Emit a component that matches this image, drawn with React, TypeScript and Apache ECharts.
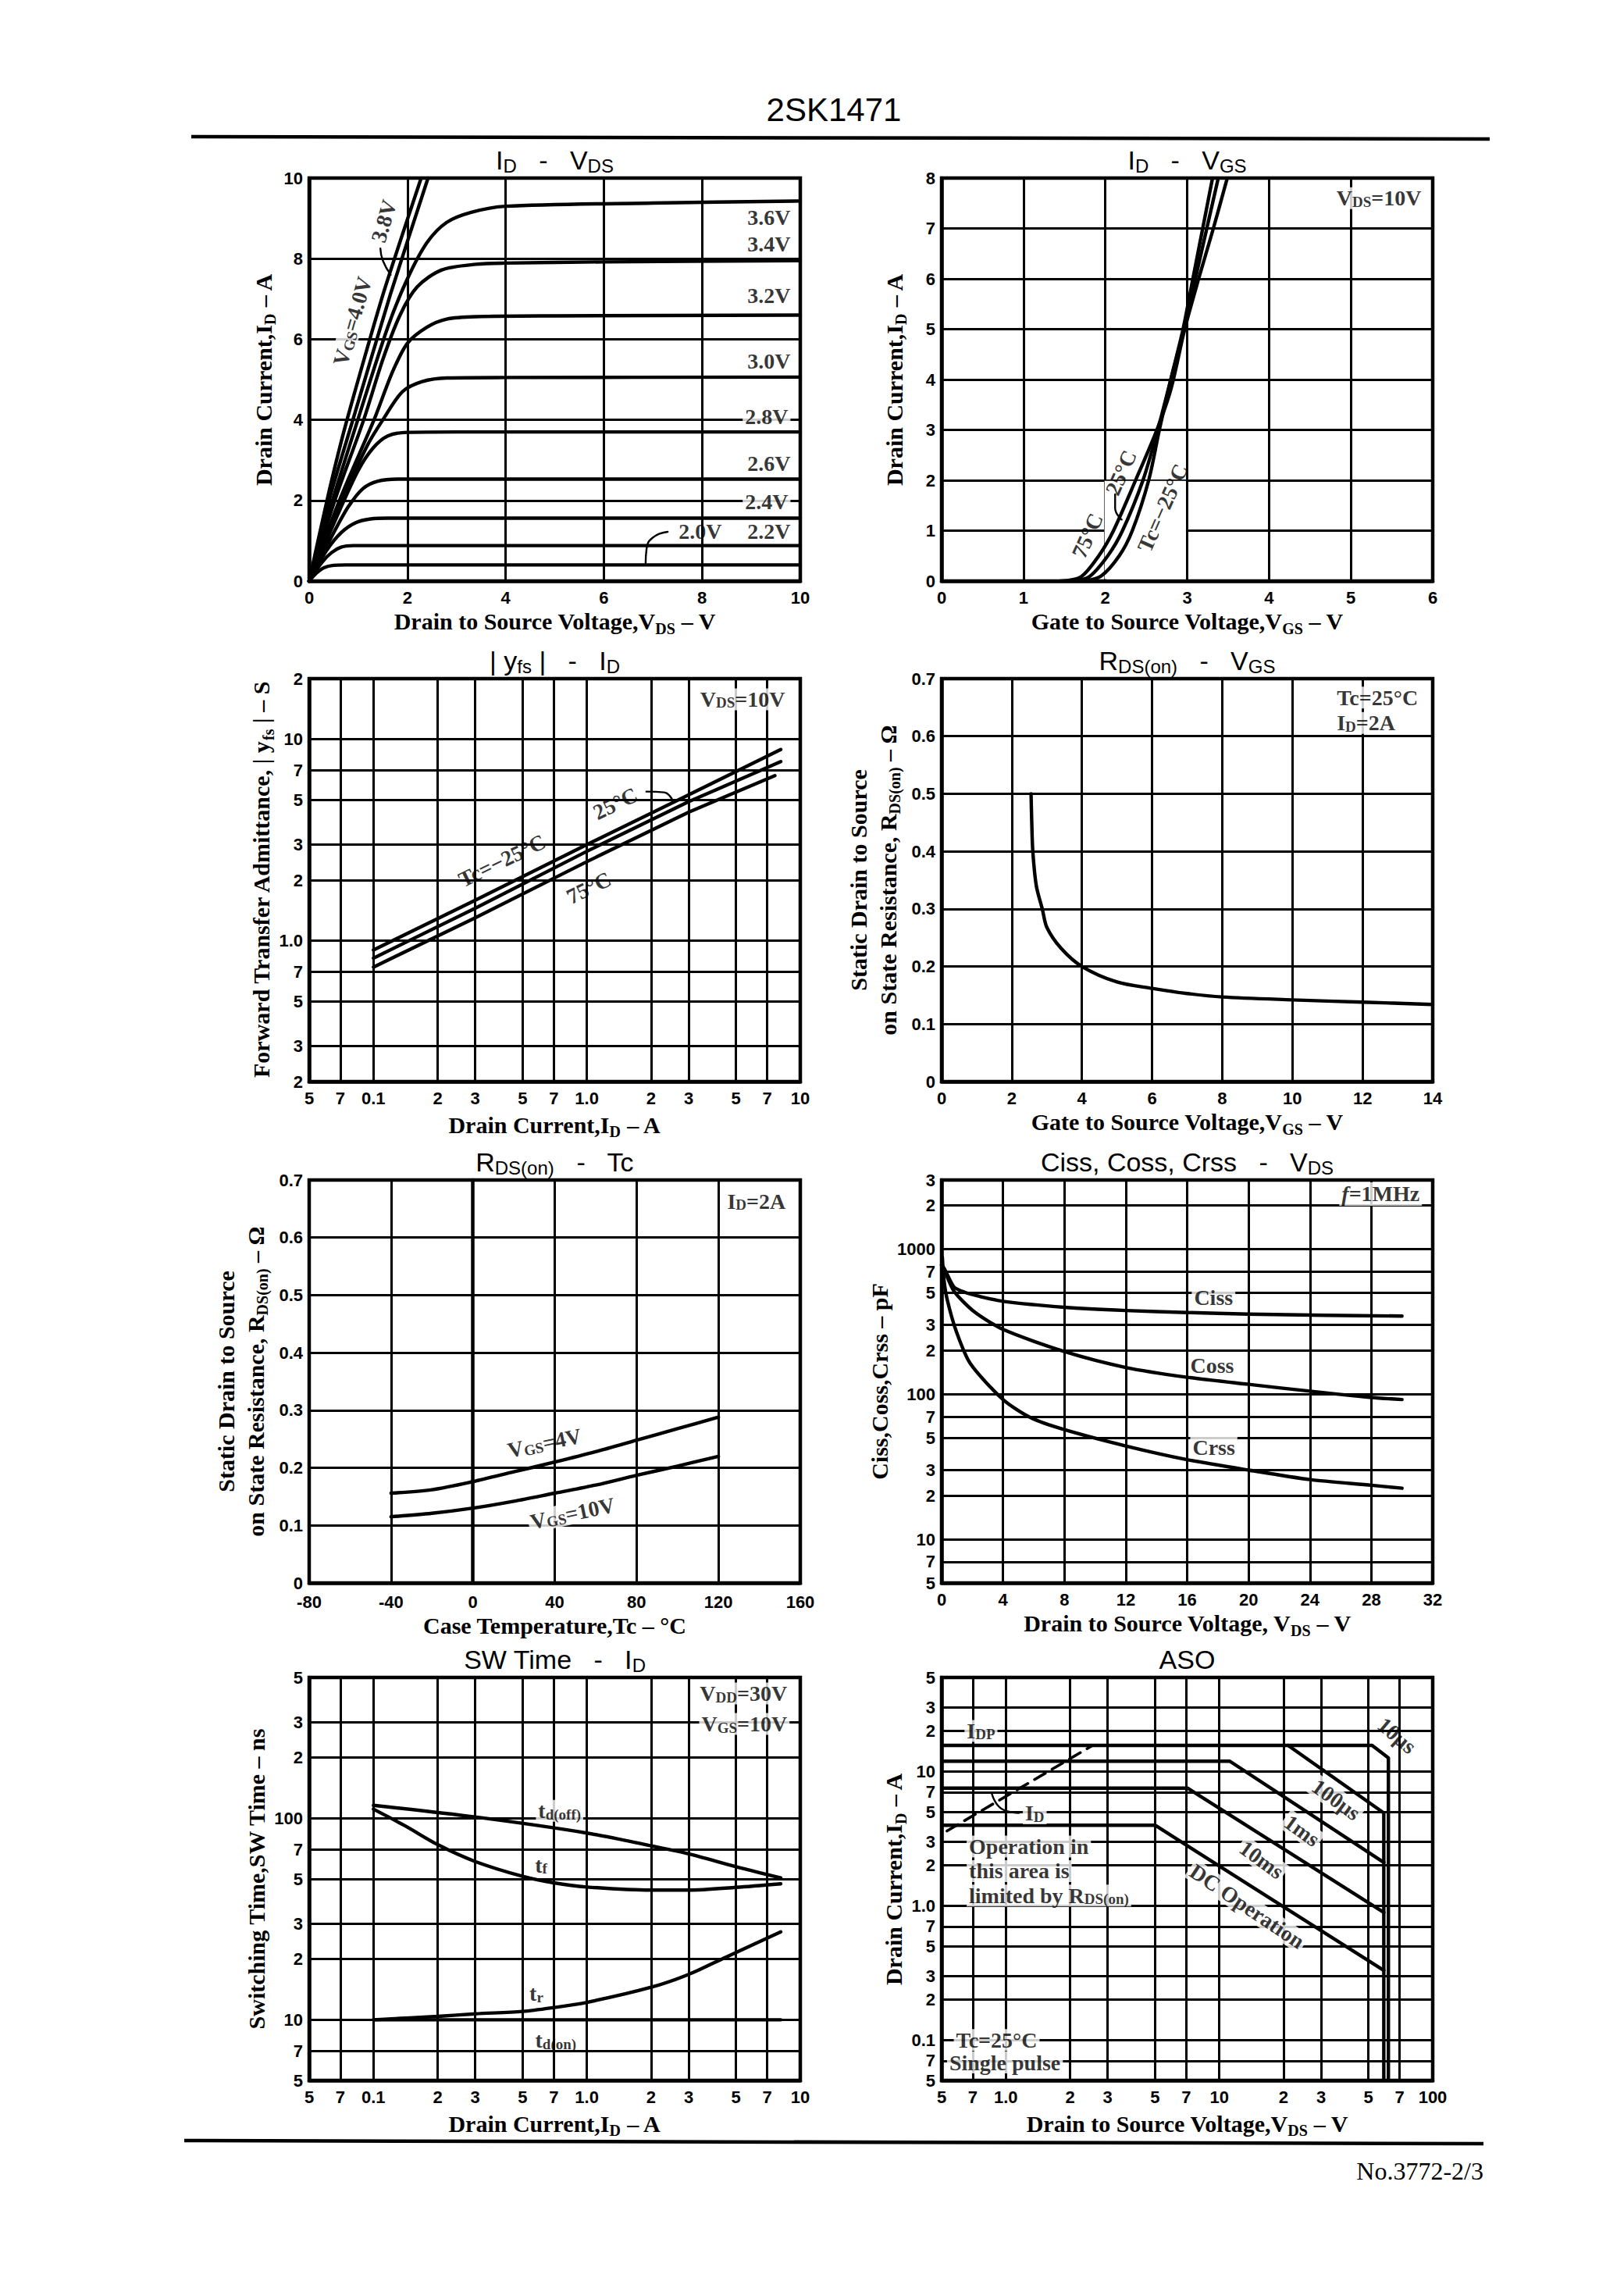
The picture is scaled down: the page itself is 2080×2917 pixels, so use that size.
import React, { useEffect, useRef } from "react";
import * as echarts from "echarts";

// ================= DATA =================
// Chart 1: ID – VDS   points are [VDS (V), ID (A)]
const vgs20 = [[0, 0], [0.15, 0.2], [0.3, 0.33], [0.5, 0.39], [0.75, 0.4], [2, 0.4], [10, 0.4]];
const vgs22 = [[0, 0], [0.25, 0.45], [0.45, 0.7], [0.65, 0.84], [0.9, 0.88], [2, 0.88], [10, 0.88]];
const vgs24 = [[0, 0], [0.35, 0.75], [0.65, 1.2], [0.95, 1.45], [1.25, 1.54], [1.6, 1.56], [3, 1.56], [10, 1.56]];
const vgs26 = [[0, 0], [0.5, 1.2], [0.8, 1.85], [1.1, 2.3], [1.4, 2.48], [1.8, 2.53], [3, 2.53], [10, 2.53]];
const vgs28 = [[0, 0], [0.6, 1.7], [1.0, 2.75], [1.3, 3.3], [1.6, 3.6], [2.0, 3.69], [3, 3.7], [10, 3.7]];
const vgs30 = [[0, 0], [0.7, 2.1], [1.2, 3.4], [1.5, 4.0], [1.9, 4.7], [2.3, 4.95], [2.8, 5.04], [4, 5.05], [10, 5.06]];
const vgs32 = [[0, 0], [0.65, 2.1], [1.32, 4], [1.7, 5.2], [2.0, 5.9], [2.4, 6.3], [2.8, 6.5], [3.4, 6.56], [5, 6.58], [10, 6.6]];
const vgs34 = [[0, 0], [0.55, 2.1], [1.11, 4], [1.5, 5.5], [1.85, 6.6], [2.2, 7.3], [2.7, 7.72], [3.4, 7.86], [4, 7.89], [6, 7.92], [10, 7.95]];
const vgs36 = [[0, 0], [0.5, 2.1], [0.99, 4], [1.6, 6.3], [2.0, 7.5], [2.4, 8.4], [2.8, 8.9], [3.3, 9.15], [4, 9.3], [7, 9.38], [10, 9.43]];
const vgs38 = [[0, 0], [0.45, 2.2], [0.89, 4], [1.65, 7.1], [2.42, 10]];
const vgs40 = [[0, 0], [0.4, 2.2], [0.77, 4], [1.5, 7.1], [2.28, 10]];
const lead20 = [[7.3, 1.22], [7.0, 1.08], [6.87, 0.8], [6.85, 0.42]];
const lead38 = [[1.45, 8.25], [1.5, 7.95], [1.66, 7.6]];

// Chart 2: ID – VGS   [VGS (V), ID (A)]
const vgsTc75 = [[1.45, 0], [1.7, 0.08], [1.92, 0.5], [2.1, 1.0], [2.37, 2.0], [2.63, 3.0], [2.8, 3.8], [2.97, 5], [3.14, 6], [3.32, 7], [3.49, 8]];
const vgsTc25 = [[1.6, 0], [1.8, 0.08], [2.03, 0.5], [2.21, 1.0], [2.46, 2], [2.64, 3], [2.8, 4], [2.96, 5], [3.1, 6], [3.24, 7], [3.38, 8]];
const vgsTcM25 = [[1.75, 0], [1.95, 0.1], [2.17, 0.5], [2.33, 1.0], [2.53, 2], [2.66, 3], [2.8, 4], [2.95, 5], [3.07, 6], [3.19, 7], [3.31, 8]];
const lead25 = [[2.12, 1.72], [2.12, 1.45], [2.2, 1.22]];

// Chart 3: |yfs| – ID   [ID (A), |yfs| (S)]
const yfsM25 = [[0.1, 0.9], [0.3, 1.59], [1, 3.0], [3, 5.3], [8.1, 8.9]];
const yfs25 = [[0.1, 0.82], [0.3, 1.45], [1, 2.78], [3, 4.9], [8.1, 7.75]];
const yfs75 = [[0.1, 0.74], [0.3, 1.3], [1, 2.47], [3, 4.35], [7.6, 6.6]];
const leadYfs = [[1.9, 5.5], [2.3, 5.45], [2.55, 4.85]];

// Chart 4: RDS(on) – VGS   [VGS (V), RDS (ohm)]
const rdsVgs = [[2.55, 0.5], [2.57, 0.45], [2.6, 0.4], [2.7, 0.34], [2.87, 0.3], [3.0, 0.268], [3.4, 0.232], [4, 0.2], [5, 0.173], [6, 0.162], [7, 0.153], [8, 0.147], [10, 0.142], [12, 0.138], [14, 0.134]];

// Chart 5: RDS(on) – Tc   [Tc (°C), RDS (ohm)]
const rdsTcVgs4 = [[-40, 0.156], [-20, 0.162], [0, 0.176], [20, 0.193], [40, 0.21], [60, 0.228], [80, 0.248], [100, 0.268], [120, 0.288]];
const rdsTcVgs10 = [[-40, 0.115], [-20, 0.121], [0, 0.13], [20, 0.142], [40, 0.156], [60, 0.17], [80, 0.187], [100, 0.203], [120, 0.22]];

// Chart 6: Ciss, Coss, Crss – VDS   [VDS (V), C (pF)]
const ciss = [[0, 780], [0.2, 728], [0.8, 550], [1.5, 505], [2.4, 475], [4, 437], [8, 398], [12, 378], [16, 366], [20, 357], [25, 350], [30, 346]];
const coss = [[0, 780], [0.1, 750], [0.8, 515], [2.1, 373], [4, 280], [8, 197], [12, 153], [16, 131], [20, 117], [24, 105], [28, 95], [30, 92]];
const crss = [[0.05, 880], [0.15, 620], [0.36, 452], [0.96, 271], [1.87, 163], [4, 92], [5.8, 69], [8, 57], [12, 44], [16, 35.4], [20, 30], [24, 25.8], [28, 23.6], [30, 22.5]];

// Chart 7: SW Time – ID   [ID (A), t (ns)]
const tdOff = [[0.1, 116], [0.3, 101.5], [1, 84.5], [2, 73], [3, 66.6], [5, 57.5], [8.1, 50.6]];
const tFall = [[0.1, 111], [0.14, 92], [0.2, 74], [0.3, 61], [0.5, 51.5], [0.7, 47.8], [1, 45.6], [2, 44], [3, 44], [5, 45.4], [8.1, 47.3]];
const tRise = [[0.1, 10], [0.2, 10.4], [0.3, 10.7], [0.5, 11.0], [0.7, 11.5], [1, 12.2], [2, 14.5], [3, 16.8], [4.5, 20.5], [8.1, 27.3]];
const tdOn = [[0.1, 10], [8.1, 10]];

// Chart 8: ASO   [VDS (V), ID (A)]
const aso10us = [[0.5, 15.6], [52, 15.6], [62, 12.6], [62, 0.05]];
const aso100us = [[21, 15.6], [59, 4.9], [59, 0.05]];
const aso1ms = [[0.5, 11.9], [11.2, 11.9], [59, 2.1]];
const aso10ms = [[0.5, 7.5], [7.1, 7.5], [59, 0.89]];
const asoDC = [[0.5, 3.97], [5.0, 3.97], [59, 0.33]];
const asoRds = [[0.53, 3.6], [2.55, 15.6]];
const leadId = [[1.15, 4.9], [0.95, 5.3], [0.86, 6.8]];

// Tick values / labels
const idLogVals = [0.05, 0.07, 0.1, 0.2, 0.3, 0.5, 0.7, 1, 2, 3, 5, 7, 10];
const idLogText = ["5", "7", "0.1", "2", "3", "5", "7", "1.0", "2", "3", "5", "7", "10"];
const yfsVals = [0.2, 0.3, 0.5, 0.7, 1, 2, 3, 5, 7, 10, 20];
const yfsText = ["2", "3", "5", "7", "1.0", "2", "3", "5", "7", "10", "2"];
const capVals = [5, 7, 10, 20, 30, 50, 70, 100, 200, 300, 500, 700, 1000, 2000, 3000];
const capText = ["5", "7", "10", "2", "3", "5", "7", "100", "2", "3", "5", "7", "1000", "2", "3"];
const swVals = [5, 7, 10, 20, 30, 50, 70, 100, 200, 300, 500];
const swText = ["5", "7", "10", "2", "3", "5", "7", "100", "2", "3", "5"];
const asoXVals = [0.5, 0.7, 1, 2, 3, 5, 7, 10, 20, 30, 50, 70, 100];
const asoXText = ["5", "7", "1.0", "2", "3", "5", "7", "10", "2", "3", "5", "7", "100"];
const asoYVals = [0.05, 0.07, 0.1, 0.2, 0.3, 0.5, 0.7, 1, 2, 3, 5, 7, 10, 20, 30, 50];
const asoYText = ["5", "7", "0.1", "2", "3", "5", "7", "1.0", "2", "3", "5", "7", "10", "2", "3", "5"];

// ================= STYLE / LAYOUT =================
const INK = "#000";
const SANS = "'Liberation Sans Narrow','Liberation Sans',Arial,sans-serif";
const SERIF = "'Liberation Serif','Times New Roman',serif";
const COLS = [396, 1206];
const ROWS = [228, 869, 1511, 2148];
const PW = 629;
const PH = 516;
const GRIDW = 3;
const CURVEW = 4.4;

const subSerif = (size: number) => ({
  s: { fontSize: size, lineHeight: size, verticalAlign: "bottom", fontFamily: SERIF, fontWeight: "bold", color: INK },
  i: { fontStyle: "italic", fontSize: 28, lineHeight: 30, fontFamily: SERIF, fontWeight: "bold", color: INK },
});

const tickLabel = { color: INK, fontFamily: SANS, fontWeight: "bold", fontSize: 22, margin: 8 };
const nameStyle = { color: INK, fontFamily: SERIF, fontWeight: "bold", fontSize: 30, lineHeight: 38, rich: subSerif(20) };

function lookup(vals: number[], texts: string[]) {
  return (v: number) => {
    let best = 0;
    let bd = Infinity;
    vals.forEach((t, k) => {
      const d = Math.abs(Math.log(v / t));
      if (d < bd) { bd = d; best = k; }
    });
    return texts[best];
  };
}

function linAxis(i: number, min: number, max: number, interval: number, name: string, gap: number, fmt?: (v: number) => string, margin = 8) {
  return {
    type: "value", gridIndex: i, min, max, interval,
    axisLine: { show: true, lineStyle: { color: INK, width: 4.5 } },
    axisTick: { show: false },
    axisLabel: { ...tickLabel, margin, formatter: fmt || ((v: number) => String(v)) },
    splitLine: { show: true, lineStyle: { color: INK, width: GRIDW } },
    name, nameLocation: "middle", nameGap: gap, nameTextStyle: nameStyle,
  };
}

function logAxis(i: number, vals: number[], texts: string[], name: string, gap: number, margin = 6) {
  return {
    type: "log", logBase: 10, gridIndex: i, min: vals[0], max: vals[vals.length - 1],
    axisLine: { show: true, lineStyle: { color: INK, width: 4.5 } },
    axisTick: { show: false, customValues: vals },
    axisLabel: { ...tickLabel, margin, customValues: vals, formatter: lookup(vals, texts) },
    splitLine: { show: true, lineStyle: { color: INK, width: GRIDW } },
    minorTick: { show: false }, minorSplitLine: { show: false },
    name, nameLocation: "middle", nameGap: gap, nameTextStyle: nameStyle,
  };
}

function curve(i: number, name: string, data: number[][], opt: any = {}) {
  return {
    type: "line", name, xAxisIndex: i, yAxisIndex: i, data,
    showSymbol: false, symbol: "none", silent: true, z: 3,
    smooth: opt.smooth === undefined ? 0.3 : opt.smooth,
    lineStyle: { color: INK, width: opt.w || CURVEW, type: opt.dash ? [16, 10] : "solid", cap: "round", join: "round" },
  };
}

type Note = { x: number; y: number; t: string; r?: number; a?: string; bg?: boolean };

function notes(i: number, list: Note[]) {
  return {
    type: "scatter", xAxisIndex: i, yAxisIndex: i, symbolSize: 1, silent: true, z: 6,
    itemStyle: { color: "rgba(0,0,0,0)" },
    label: {
      show: true, position: "inside", color: INK, fontFamily: SERIF, fontWeight: "bold",
      fontSize: 28, lineHeight: 28, rich: subSerif(19),
      formatter: (p: any) => p.data.t,
    },
    data: list.map((n) => ({
      value: [n.x, n.y], t: n.t,
      label: { rotate: n.r || 0, align: n.a || "center", backgroundColor: n.bg ? "#fff" : "transparent", padding: n.bg ? [0, 3] : 0 },
    })),
  };
}

const notes1: Note[] = [
  { x: 9.8, y: 9.03, t: "3.6V", a: "right" },
  { x: 9.8, y: 8.36, t: "3.4V", a: "right" },
  { x: 9.8, y: 7.09, t: "3.2V", a: "right" },
  { x: 9.8, y: 5.46, t: "3.0V", a: "right" },
  { x: 9.8, y: 4.08, t: "2.8V", a: "right", bg: true },
  { x: 9.8, y: 2.91, t: "2.6V", a: "right" },
  { x: 9.8, y: 1.97, t: "2.4V", a: "right", bg: true },
  { x: 9.8, y: 1.23, t: "2.2V", a: "right" },
  { x: 8.4, y: 1.23, t: "2.0V", a: "right" },
  { x: 0.88, y: 6.45, t: "V{s|GS}=4.0V", r: 74, bg: true },
  { x: 1.52, y: 8.93, t: "3.8V", r: 74 },
];
const notes2: Note[] = [
  { x: 5.89, y: 7.6, t: "V{s|DS}=10V", a: "right", bg: true },
  { x: 1.78, y: 0.9, t: "75°C", r: 66 },
  { x: 2.19, y: 2.15, t: "25°C", r: 66 },
  { x: 2.7, y: 1.45, t: "Tc=−25°C", r: 66 },
];
const notes3: Note[] = [
  { x: 8.7, y: 15.8, t: "V{s|DS}=10V", a: "right", bg: true },
  { x: 0.4, y: 2.5, t: "Tc=−25°C", r: 26 },
  { x: 1.36, y: 4.8, t: "25°C", r: 26 },
  { x: 1.02, y: 1.83, t: "75°C", r: 26 },
];
const notes4: Note[] = [
  { x: 11.2, y: 0.667, t: "Tc=25°C", a: "left", bg: true },
  { x: 11.2, y: 0.623, t: "I{s|D}=2A", a: "left", bg: true },
];
const notes5: Note[] = [
  { x: 154, y: 0.663, t: "I{s|D}=2A", a: "right", bg: true },
  { x: 35, y: 0.243, t: "V{s|GS}=4V", r: 12 },
  { x: 48.7, y: 0.121, t: "V{s|GS}=10V", r: 12, bg: true },
];
const notes6: Note[] = [
  { x: 31.3, y: 2400, t: "{i|f}=1MHz", a: "right", bg: true },
  { x: 16.3, y: 466, t: "Ciss", a: "left", bg: true },
  { x: 16.2, y: 158, t: "Coss", a: "left" },
  { x: 16.2, y: 43, t: "Crss", a: "left", bg: true },
];
const notes7: Note[] = [
  { x: 8.9, y: 416, t: "V{s|DD}=30V", a: "right", bg: true },
  { x: 8.9, y: 294, t: "V{s|GS}=10V", a: "right", bg: true },
  { x: 0.745, y: 109, t: "t{s|d(off)}", bg: true },
  { x: 0.61, y: 58.6, t: "t{s|f}" },
  { x: 0.58, y: 13.5, t: "t{s|r}" },
  { x: 0.715, y: 7.9, t: "t{s|d(on)}" },
];
const notes8: Note[] = [
  { x: 0.64, y: 20, t: "I{s|DP}", a: "left", bg: true },
  { x: 1.2, y: 4.87, t: "I{s|D}", a: "left", bg: true },
  { x: 0.655, y: 2.76, t: "Operation in", a: "left", bg: true },
  { x: 0.655, y: 1.81, t: "this area is", a: "left", bg: true },
  { x: 0.655, y: 1.19, t: "limited by R{s|DS(on)}", a: "left", bg: true },
  { x: 0.57, y: 0.1, t: "Tc=25°C", a: "left", bg: true },
  { x: 0.53, y: 0.068, t: "Single pulse", a: "left", bg: true },
  { x: 68, y: 18.5, t: "10μs", r: -40 },
  { x: 35.3, y: 6.15, t: "100μs", r: -36, bg: true },
  { x: 24.4, y: 3.62, t: "1ms", r: -36, bg: true },
  { x: 15.8, y: 2.2, t: "10ms", r: -36, bg: true },
  { x: 13.5, y: 0.99, t: "DC Operation", r: -34, bg: true },
];

const titles = [
  "I{s|D}   -   V{s|DS}",
  "I{s|D}   -   V{s|GS}",
  "| y{s|fs} |   -   I{s|D}",
  "R{s|DS(on)}   -   V{s|GS}",
  "R{s|DS(on)}   -   Tc",
  "Ciss, Coss, Crss   -   V{s|DS}",
  "SW Time   -   I{s|D}",
  "ASO",
];

function buildOption() {
  const grids: any[] = [];
  const titleOpts: any[] = [];
  for (let k = 0; k < 8; k++) {
    const left = COLS[k % 2];
    const top = ROWS[Math.floor(k / 2)];
    grids.push({ left, top, width: PW, height: PH, show: true, borderColor: INK, borderWidth: 4.5, backgroundColor: "#fff", outerBoundsMode: "none", containLabel: false });
    titleOpts.push({
      text: titles[k], left: left + PW / 2, top: top - 42, textAlign: "center", padding: 0,
      textStyle: {
        fontFamily: SANS, fontSize: 34, fontWeight: "normal", color: INK, lineHeight: 38,
        rich: { s: { fontFamily: SANS, fontSize: 24, lineHeight: 24, verticalAlign: "bottom", color: INK } },
      },
    });
  }
  const rdsFmt = (v: number) => (v === 0 ? "0" : v.toFixed(1));
  const xAxis = [
    linAxis(0, 0, 10, 2, "Drain to Source Voltage,V{s|DS} – V", 32, undefined, 10),
    linAxis(1, 0, 6, 1, "Gate to Source Voltage,V{s|GS} – V", 32, undefined, 10),
    logAxis(2, idLogVals, idLogText, "Drain Current,I{s|D} – A", 36, 10),
    linAxis(3, 0, 14, 2, "Gate to Source Voltage,V{s|GS} – V", 32, undefined, 10),
    linAxis(4, -80, 160, 40, "Case Temperature,Tc – °C", 34, undefined, 13),
    linAxis(5, 0, 32, 4, "Drain to Source Voltage, V{s|DS} – V", 32, undefined, 10),
    logAxis(6, idLogVals, idLogText, "Drain Current,I{s|D} – A", 36, 10),
    logAxis(7, asoXVals, asoXText, "Drain to Source Voltage,V{s|DS} – V", 36, 10),
  ];
  const yAxis = [
    linAxis(0, 0, 10, 2, "Drain Current,I{s|D} – A", 40),
    linAxis(1, 0, 8, 1, "Drain Current,I{s|D} – A", 42),
    logAxis(2, yfsVals, yfsText, "Forward Transfer Admittance, | y{s|fs} | – S", 42, 8),
    linAxis(3, 0, 0.7, 0.1, "Static Drain to Source\non State Resistance, R{s|DS(on)} – Ω", 50, rdsFmt),
    linAxis(4, 0, 0.7, 0.1, "Static Drain to Source\non State Resistance, R{s|DS(on)} – Ω", 50, rdsFmt),
    logAxis(5, capVals, capText, "Ciss,Coss,Crss – pF", 40, 8),
    logAxis(6, swVals, swText, "Switching Time,SW Time – ns", 40, 8),
    logAxis(7, asoYVals, asoYText, "Drain Current,I{s|D} – A", 42, 8),
  ];

  const series: any[] = [
    curve(0, "2.0V", vgs20), curve(0, "2.2V", vgs22), curve(0, "2.4V", vgs24),
    curve(0, "2.6V", vgs26), curve(0, "2.8V", vgs28), curve(0, "3.0V", vgs30),
    curve(0, "3.2V", vgs32), curve(0, "3.4V", vgs34), curve(0, "3.6V", vgs36),
    curve(0, "3.8V", vgs38, { smooth: 0.2 }), curve(0, "4.0V", vgs40, { smooth: 0.2 }),
    curve(0, "lead2.0", lead20, { w: 2.4, smooth: 0.5 }), curve(0, "lead3.8", lead38, { w: 2.4, smooth: 0.5 }),
    notes(0, notes1),

    {
      type: "line", xAxisIndex: 1, yAxisIndex: 1, data: [], z: 1, silent: true,
      markArea: { silent: true, itemStyle: { color: "#fff", borderWidth: 0 }, data: [[{ coord: [1.99, 0.04] }, { coord: [2.985, 1.99] }]] },
    },
    curve(1, "75°C", vgsTc75, { smooth: 0.3 }), curve(1, "25°C", vgsTc25, { smooth: 0.3 }), curve(1, "-25°C", vgsTcM25, { smooth: 0.3 }),
    curve(1, "lead25", lead25, { w: 2.4, smooth: 0.5 }),
    notes(1, notes2),

    curve(2, "-25°C", yfsM25, { smooth: false }), curve(2, "25°C", yfs25, { smooth: false }), curve(2, "75°C", yfs75, { smooth: false }),
    curve(2, "leadYfs", leadYfs, { w: 2.4, smooth: 0.5 }),
    notes(2, notes3),

    curve(3, "RDS(on)", rdsVgs, { smooth: 0.3 }),
    notes(3, notes4),

    curve(4, "VGS=4V", rdsTcVgs4, { smooth: 0.3 }), curve(4, "VGS=10V", rdsTcVgs10, { smooth: 0.3 }),
    notes(4, notes5),

    curve(5, "Ciss", ciss, { smooth: 0.25 }), curve(5, "Coss", coss, { smooth: 0.25 }), curve(5, "Crss", crss, { smooth: 0.25 }),
    notes(5, notes6),

    curve(6, "td(off)", tdOff, { smooth: 0.3 }), curve(6, "tf", tFall, { smooth: 0.3 }), curve(6, "tr", tRise, { smooth: 0.3 }), curve(6, "td(on)", tdOn, { smooth: false }),
    notes(6, notes7),

    curve(7, "10us", aso10us, { smooth: false }), curve(7, "100us", aso100us, { smooth: false }),
    curve(7, "1ms", aso1ms, { smooth: false }), curve(7, "10ms", aso10ms, { smooth: false }), curve(7, "DC", asoDC, { smooth: false }),
    curve(7, "RDS(on) limit", asoRds, { smooth: false, dash: true, w: 3.6 }),
    curve(7, "leadId", leadId, { w: 2.4, smooth: 0.5 }),
    notes(7, notes8),
  ];

  return {
    animation: false,
    backgroundColor: "#fff",
    title: titleOpts,
    grid: grids,
    xAxis,
    yAxis,
    series,
    graphic: [
      { type: "text", x: 1068, y: 140, style: { text: "2SK1471", fontSize: 42, fontFamily: SANS, fill: INK, align: "center", verticalAlign: "middle", textAlign: "center", textVerticalAlign: "middle" } },
      { type: "line", shape: { x1: 245, y1: 175, x2: 1908, y2: 178 }, style: { stroke: INK, lineWidth: 4.5 } },
      { type: "line", shape: { x1: 236, y1: 2741, x2: 1900, y2: 2745 }, style: { stroke: INK, lineWidth: 4.5 } },
      { type: "text", x: 1900, y: 2780, style: { text: "No.3772-2/3", fontSize: 32, fontFamily: SERIF, fill: INK, align: "right", verticalAlign: "middle", textAlign: "right", textVerticalAlign: "middle" } },
    ],
  };
}

export default function App() {
  const ref = useRef<HTMLDivElement>(null);
  useEffect(() => {
    if (!ref.current) return;
    const chart = echarts.init(ref.current, undefined, { renderer: "svg" });
    chart.setOption(buildOption() as any);
    return () => chart.dispose();
  }, []);
  return <div ref={ref} style={{ position: "absolute", left: 0, top: 0, width: 2080, height: 2917, background: "#fff" }} />;
}
